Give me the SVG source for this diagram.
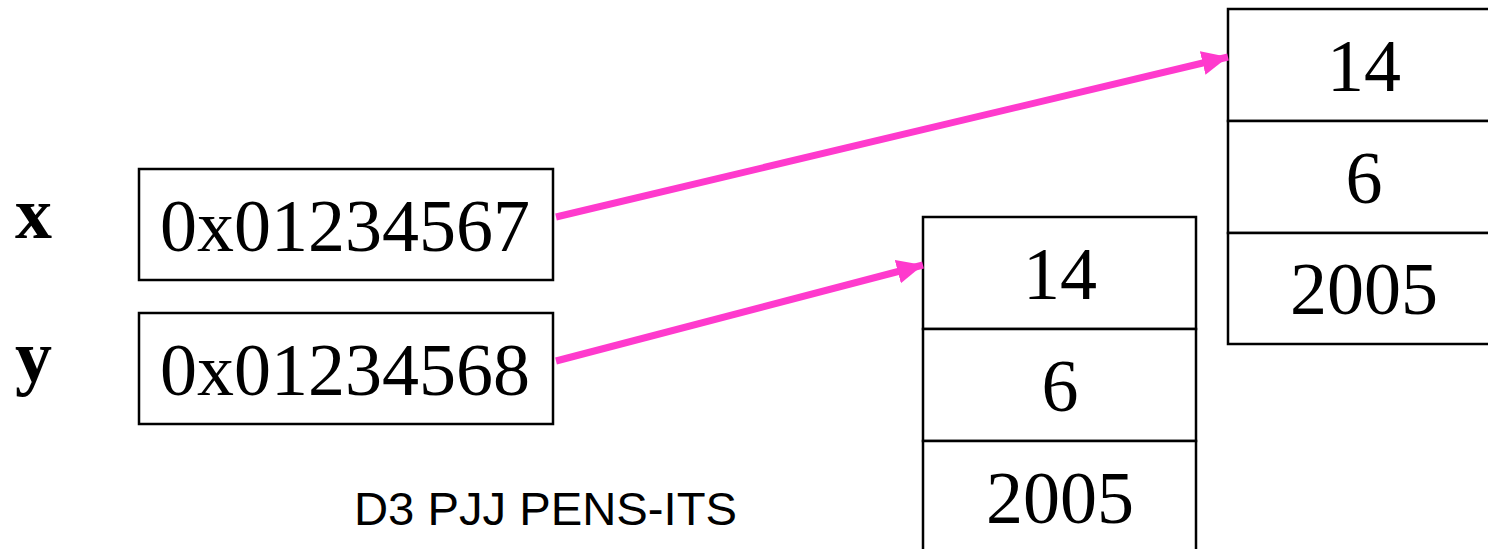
<svg xmlns="http://www.w3.org/2000/svg" width="1488" height="549" viewBox="0 0 1488 549">
  <style>
    .cell { fill: #ffffff; stroke: #000000; stroke-width: 2.5; }
    .val { font-family: "Liberation Serif", "Times New Roman", serif; font-size: 74px; fill: #000; text-anchor: middle; }
    .var { font-family: "Liberation Serif", "Times New Roman", serif; font-size: 74px; font-weight: bold; fill: #000; }
    .ptr { stroke: #ff3acd; stroke-width: 7; fill: none; }
    .foot { font-family: "Liberation Sans", Arial, sans-serif; font-size: 47px; fill: #000; }
  </style>
  <defs>
    <marker id="head" markerUnits="userSpaceOnUse" markerWidth="28" markerHeight="26" refX="26" refY="12" orient="auto">
      <path d="M0,0 L26,12 L0,24 Z" fill="#ff3acd"/>
    </marker>
  </defs>
  <rect width="1488" height="549" fill="#ffffff"/>

  <!-- pointer variables -->
  <g id="var-x">
    <text class="var" x="15" y="238">x</text>
    <rect class="cell" x="139" y="169" width="414" height="111"/>
    <text class="val" x="345" y="251">0x01234567</text>
  </g>
  <g id="var-y">
    <text class="var" x="15" y="381">y</text>
    <rect class="cell" x="139" y="313" width="414" height="111"/>
    <text class="val" x="345" y="395">0x01234568</text>
  </g>

  <!-- record pointed to by y -->
  <g id="record-a">
    <rect class="cell" x="923" y="217" width="273" height="112"/>
    <rect class="cell" x="923" y="329" width="273" height="112"/>
    <rect class="cell" x="923" y="441" width="273" height="112"/>
    <text class="val" x="1060" y="299">14</text>
    <text class="val" x="1060" y="411">6</text>
    <text class="val" x="1060" y="523">2005</text>
  </g>

  <!-- record pointed to by x -->
  <g id="record-b">
    <rect class="cell" x="1228" y="9" width="272" height="112"/>
    <rect class="cell" x="1228" y="121" width="272" height="112"/>
    <rect class="cell" x="1228" y="233" width="272" height="111"/>
    <text class="val" x="1364" y="91">14</text>
    <text class="val" x="1364" y="203">6</text>
    <text class="val" x="1364" y="314">2005</text>
  </g>

  <g id="connectors">
    <line class="ptr" x1="556" y1="217" x2="1228" y2="57" marker-end="url(#head)"/>
    <line class="ptr" x1="556" y1="361" x2="923" y2="265" marker-end="url(#head)"/>
  </g>

  <text class="foot" x="354" y="525" textLength="383" lengthAdjust="spacingAndGlyphs">D3 PJJ PENS-ITS</text>
</svg>
